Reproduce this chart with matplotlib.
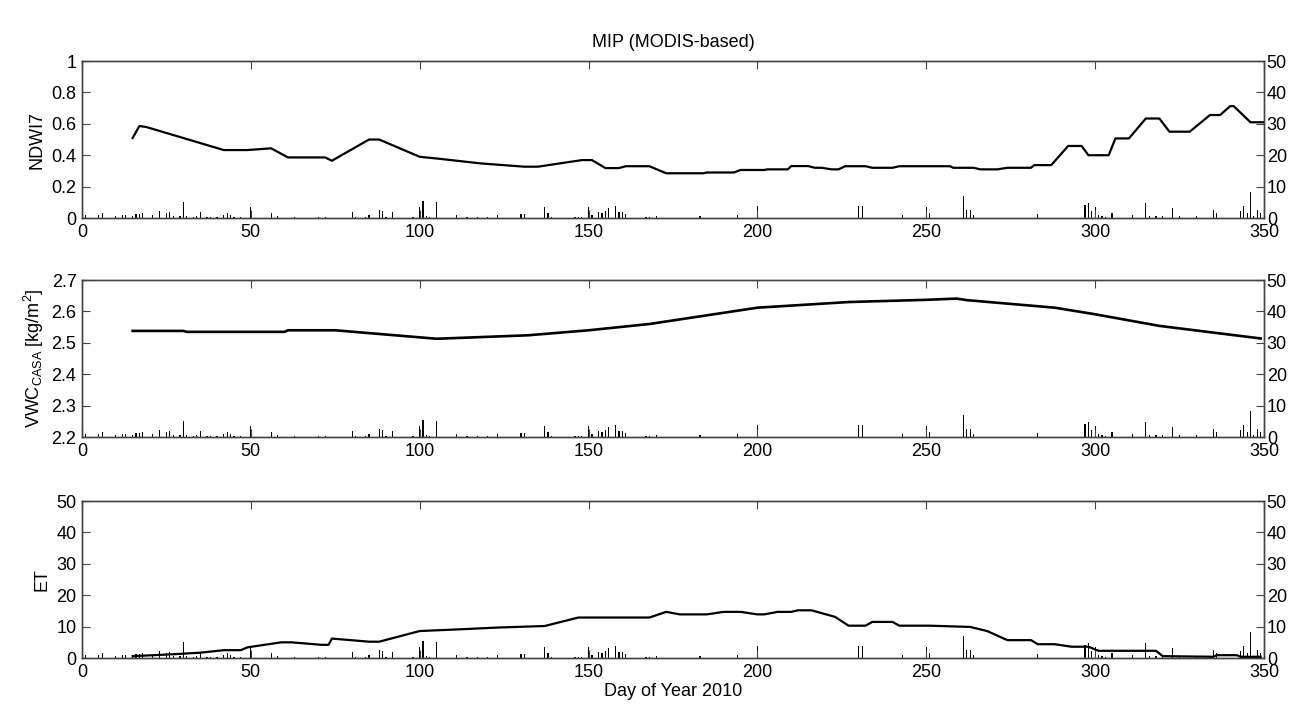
"""MIP (MODIS-based) time series with daily precipitation bars."""

import matplotlib
matplotlib.use('Agg')
import matplotlib.pyplot as plt
from matplotlib import rc

FONT = {'family': 'Liberation Sans', 'size': 13}
rc('font', **FONT)
rc('mathtext', default='regular')

# NDWI7 (top panel)
ndwi_day = [15, 17, 19, 42, 49, 56, 61, 72, 74, 85, 88, 100, 106, 118, 131, 135,
            148, 151, 155, 159, 161, 168, 173, 184, 185, 193, 195, 202, 203, 209,
            210, 215, 217, 219, 222, 224, 226, 232, 234, 240, 242, 257, 258, 264,
            266, 271, 274, 281, 282, 287, 292, 296, 298, 304, 306, 310, 315, 319,
            322, 328, 334, 337, 340, 341, 346, 350]
ndwi_val = [0.51, 0.586, 0.58, 0.433, 0.433, 0.444, 0.386, 0.386, 0.365, 0.50, 0.50,
            0.39, 0.377, 0.348, 0.327, 0.327, 0.369, 0.369, 0.318, 0.318, 0.33, 0.33,
            0.285, 0.285, 0.29, 0.29, 0.306, 0.306, 0.31, 0.31, 0.331, 0.331, 0.32,
            0.32, 0.31, 0.31, 0.33, 0.33, 0.32, 0.32, 0.33, 0.33, 0.32, 0.32, 0.31,
            0.31, 0.32, 0.32, 0.337, 0.337, 0.459, 0.459, 0.40, 0.40, 0.507, 0.507,
            0.634, 0.634, 0.55, 0.55, 0.656, 0.656, 0.713, 0.713, 0.61, 0.61]

# VWC_CASA (middle panel)
vwc_day = [15, 30, 31, 60, 61, 75, 105, 132, 150, 168, 200, 227, 250, 259, 262,
           288, 300, 319, 349]
vwc_val = [2.538, 2.538, 2.535, 2.535, 2.54, 2.54, 2.513, 2.524, 2.54, 2.560,
           2.612, 2.630, 2.637, 2.641, 2.636, 2.612, 2.591, 2.554, 2.514]

# ET (bottom panel)
et_day = [15, 27, 35, 42, 47, 49, 59, 62, 71, 73, 74, 85, 88, 100, 111, 123, 137,
          147, 168, 173, 177, 185, 190, 195, 200, 202, 206, 210, 212, 216, 223, 227,
          232, 234, 240, 242, 251, 263, 268, 274, 281, 283, 288, 293, 298, 301, 318,
          320, 335, 336, 342, 343, 349]
et_val = [0.6, 1.2, 1.7, 2.5, 2.5, 3.4, 5.0, 5.0, 4.2, 4.2, 6.2, 5.2, 5.2, 8.6, 9.1,
          9.7, 10.2, 12.9, 12.9, 14.7, 13.9, 13.9, 14.7, 14.7, 13.9, 13.9, 14.7,
          14.7, 15.2, 15.2, 13.1, 10.3, 10.3, 11.5, 11.5, 10.3, 10.3, 9.9, 8.6, 5.7,
          5.7, 4.4, 4.4, 3.6, 3.6, 2.3, 2.3, 0.6, 0.4, 0.9, 0.9, 0.4, 0.4]

# daily precipitation (right axes)
precip_day = [1, 5, 6, 10, 12, 13, 15, 16, 17, 18, 21, 23, 25, 26, 27, 29, 30, 31,
              33, 34, 35, 37, 38, 40, 42, 43, 44, 45, 47, 50, 56, 58, 63, 70, 72,
              80, 81, 84, 85, 88, 89, 90, 92, 98, 100, 101, 102, 103, 105, 111, 114,
              117, 120, 123, 130, 131, 137, 138, 139, 146, 147, 148, 150, 151, 153,
              154, 155, 156, 158, 159, 160, 161, 167, 168, 170, 183, 194, 200, 230,
              231, 243, 250, 251, 261, 262, 263, 264, 283, 297, 298, 299, 300, 301,
              302, 303, 305, 311, 315, 316, 318, 320, 323, 325, 330, 335, 336, 343,
              344, 345, 346, 347, 348, 349]
precip_mm = [1.1, 1.1, 1.6, 0.7, 1.0, 1.0, 0.8, 1.3, 1.3, 1.6, 1.0, 2.1, 1.6, 1.9,
             0.6, 0.5, 5.1, 0.6, 0.4, 0.5, 1.9, 0.4, 0.3, 0.3, 1.1, 1.5, 1.1, 0.4,
             0.3, 3.4, 1.6, 0.5, 0.3, 0.3, 0.3, 1.9, 0.3, 0.3, 1.1, 2.7, 2.2, 0.3,
             1.9, 0.3, 3.4, 5.5, 0.6, 0.4, 5.1, 1.1, 0.2, 0.4, 0.2, 1.1, 1.3, 1.3,
             3.4, 1.5, 0.3, 0.3, 0.3, 0.3, 3.4, 1.1, 1.9, 1.6, 2.3, 3.2, 3.7, 1.9,
             1.9, 1.2, 0.4, 0.4, 0.5, 0.8, 1.1, 3.7, 3.7, 3.7, 1.1, 3.4, 1.6, 6.9,
             2.7, 2.7, 1.1, 1.3, 4.2, 4.8, 2.1, 3.4, 1.1, 0.6, 0.4, 1.6, 0.9, 4.8,
             0.5, 0.5, 0.5, 3.2, 0.5, 0.5, 2.7, 1.6, 2.1, 3.7, 1.6, 8.2, 0.5, 2.7,
             1.6]

fig = plt.figure(figsize=(12.91, 7.09), dpi=100)

left, width, height = 0.0635, 0.9156, 0.2214
bottoms = [0.6925, 0.3836, 0.0719]
EDGE = '#444444'


def style_axes(ax):
    """MATLAB-like inward ticks and thin grey box."""
    for sp in ax.spines.values():
        sp.set_color(EDGE)
        sp.set_linewidth(1.0)
    ax.tick_params(direction='in', length=6, width=0.8, color=EDGE, pad=4)


def add_precip(ax):
    """Draw the daily precipitation bars on a right-hand axis."""
    ax2 = ax.twinx()
    ax2.bar(precip_day, precip_mm, width=0.35, color='black', linewidth=0)
    ax2.set_ylim(0, 50)
    ax2.set_yticks(range(0, 51, 10))
    ax2.set_xlim(0, 350)
    style_axes(ax2)
    ax2.tick_params(axis='y', direction='in', length=6, pad=2)
    return ax2


panels = []
for b in bottoms:
    ax = fig.add_axes([left, b, width, height])
    ax.set_xlim(0, 350)
    ax.set_xticks(range(0, 351, 50))
    ax.tick_params(top=True)
    style_axes(ax)
    panels.append(ax)

ax1, ax2, ax3 = panels

ax1.plot(ndwi_day, ndwi_val, color='black', lw=1.6, zorder=5)
ax1.set_ylim(0, 1)
ax1.set_yticks([0, 0.2, 0.4, 0.6, 0.8, 1])
ax1.set_yticklabels(['0', '0.2', '0.4', '0.6', '0.8', '1'])
ax1.set_ylabel('NDWI7')
ax1.set_title('MIP (MODIS-based)', fontsize=13, pad=10)

ax2.plot(vwc_day, vwc_val, color='black', lw=1.9, zorder=5)
ax2.set_ylim(2.2, 2.7)
ax2.set_yticks([2.2, 2.3, 2.4, 2.5, 2.6, 2.7])
ax2.set_ylabel(r'VWC$_{CASA}$ [kg/m$^2$]')

ax3.plot(et_day, et_val, color='black', lw=1.6, zorder=5)
ax3.set_ylim(0, 50)
ax3.set_yticks(range(0, 51, 10))
ax3.set_ylabel('ET')
ax3.set_xlabel('Day of Year 2010', labelpad=2)

for ax in panels:
    add_precip(ax)
    ax.set_zorder(2)
    ax.patch.set_visible(False)

fig.savefig('out.png', dpi=100)
